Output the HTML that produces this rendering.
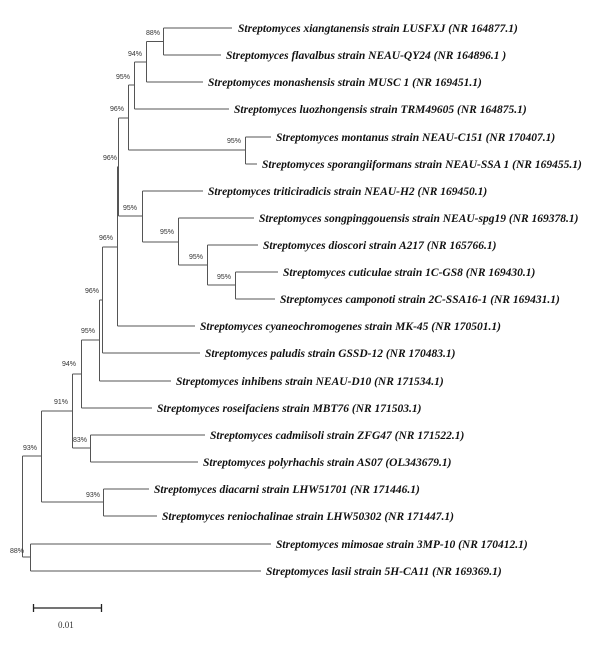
<!DOCTYPE html>
<html><head><meta charset="utf-8"><style>
html,body{margin:0;padding:0;background:#fff;}
svg{display:block;}
.t{font-family:"Liberation Serif",serif;font-weight:bold;font-style:italic;font-size:11.5px;fill:#111;}
.b{font-family:"Liberation Sans",sans-serif;font-size:7px;fill:#333;}
</style></head><body>
<svg width="600" height="666" xmlns="http://www.w3.org/2000/svg">
<g stroke="#555" stroke-width="1" fill="none">
<path d="M163.5 28H232 M163.5 55H221 M163.5 28V55"/>
<path d="M146.5 41.5H163.5 M146.5 82H203 M146.5 41.5V82"/>
<path d="M134.5 62H146.5 M134.5 109H229 M134.5 62V109"/>
<path d="M245.5 137H271 M245.5 164H257 M245.5 137V164"/>
<path d="M128.5 85H134.5 M128.5 150H245.5 M128.5 85V150"/>
<path d="M235.5 272H278 M235.5 299H275 M235.5 272V299"/>
<path d="M207.5 245H258 M207.5 285H235.5 M207.5 245V285"/>
<path d="M178.5 218H254 M178.5 265H207.5 M178.5 218V265"/>
<path d="M142.5 191H203 M142.5 242H178.5 M142.5 191V242"/>
<path d="M118.5 118H128.5 M118.5 216H142.5 M118.5 118V216"/>
<path d="M117 167H118.5 M117.5 326H195 M117.5 167V326"/>
<path d="M102.5 247H117.5 M102.5 353H200 M102.5 247V353"/>
<path d="M99.5 300H102.5 M99.5 381H171 M99.5 300V381"/>
<path d="M81.5 340H99.5 M81.5 408H152 M81.5 340V408"/>
<path d="M90.5 435H205 M90.5 462H198 M90.5 435V462"/>
<path d="M72.5 374H81.5 M72.5 448H90.5 M72.5 374V448"/>
<path d="M103.5 489H149 M103.5 516H157 M103.5 489V516"/>
<path d="M41.5 411H72.5 M41.5 502H103.5 M41.5 411V502"/>
<path d="M30.5 544H271 M30.5 571H261 M30.5 544V571"/>
<path d="M22.5 456H41.5 M22.5 557H30.5 M22.5 456V557"/>
<path d="M33.5 608H101.5 M33.5 604V612 M101.5 604V612" stroke="#222" stroke-width="1.3"/>
</g>
<g class="t">
<text x="238" y="32">Streptomyces xiangtanensis strain LUSFXJ  (NR 164877.1)</text>
<text x="226" y="59">Streptomyces flavalbus strain NEAU-QY24 (NR 164896.1 )</text>
<text x="208" y="86">Streptomyces monashensis strain MUSC 1 (NR 169451.1)</text>
<text x="234" y="113">Streptomyces luozhongensis strain TRM49605 (NR 164875.1)</text>
<text x="276" y="141">Streptomyces montanus strain NEAU-C151 (NR 170407.1)</text>
<text x="262" y="168">Streptomyces sporangiiformans strain NEAU-SSA 1 (NR 169455.1)</text>
<text x="208" y="195">Streptomyces triticiradicis strain NEAU-H2 (NR 169450.1)</text>
<text x="259" y="222">Streptomyces songpinggouensis strain NEAU-spg19 (NR 169378.1)</text>
<text x="263" y="249">Streptomyces dioscori strain A217 (NR 165766.1)</text>
<text x="283" y="276">Streptomyces cuticulae strain 1C-GS8 (NR 169430.1)</text>
<text x="280" y="303">Streptomyces camponoti strain 2C-SSA16-1 (NR 169431.1)</text>
<text x="200" y="330">Streptomyces cyaneochromogenes strain MK-45 (NR 170501.1)</text>
<text x="205" y="357">Streptomyces paludis strain GSSD-12 (NR 170483.1)</text>
<text x="176" y="385">Streptomyces inhibens strain NEAU-D10 (NR 171534.1)</text>
<text x="157" y="412">Streptomyces roseifaciens strain MBT76 (NR 171503.1)</text>
<text x="210" y="439">Streptomyces cadmiisoli strain ZFG47 (NR 171522.1)</text>
<text x="203" y="466">Streptomyces polyrhachis strain AS07 (OL343679.1)</text>
<text x="154" y="493">Streptomyces diacarni strain LHW51701 (NR 171446.1)</text>
<text x="162" y="520">Streptomyces reniochalinae strain LHW50302 (NR 171447.1)</text>
<text x="276" y="548">Streptomyces mimosae strain 3MP-10 (NR 170412.1)</text>
<text x="266" y="575">Streptomyces lasii strain 5H-CA11 (NR 169369.1)</text>
</g>
<g class="b">
<text x="146" y="35">88%</text>
<text x="128" y="56">94%</text>
<text x="116" y="79">95%</text>
<text x="110" y="111">96%</text>
<text x="227" y="143">95%</text>
<text x="103" y="160">96%</text>
<text x="123" y="210">95%</text>
<text x="160" y="234">95%</text>
<text x="189" y="259">95%</text>
<text x="217" y="279">95%</text>
<text x="99" y="240">96%</text>
<text x="85" y="293">96%</text>
<text x="81" y="333">95%</text>
<text x="62" y="366">94%</text>
<text x="54" y="404">91%</text>
<text x="73" y="442">83%</text>
<text x="23" y="450">93%</text>
<text x="86" y="497">93%</text>
<text x="10" y="553">88%</text>
</g>
<text x="58" y="628" style="font-family:'Liberation Serif',serif;font-size:9px;fill:#333">0.01</text>
</svg>
</body></html>
